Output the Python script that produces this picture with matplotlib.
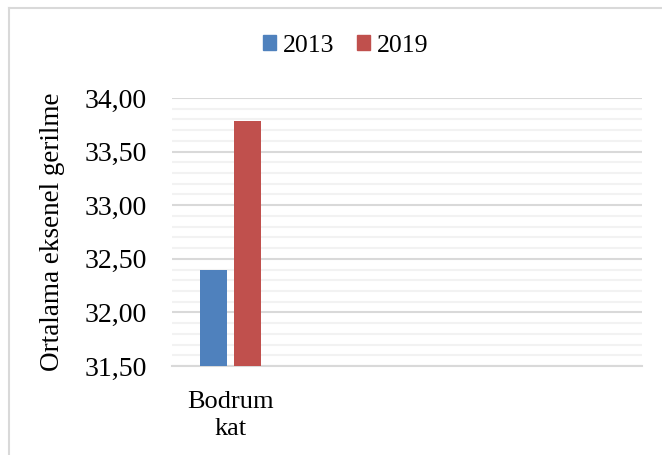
import numpy as np
import matplotlib
matplotlib.use("Agg")
import matplotlib.pyplot as plt
from matplotlib.patches import Patch
from matplotlib.lines import Line2D

plt.rcParams['font.family'] = ['Liberation Serif', 'DejaVu Serif']

# data
categories = ["Bodrum\nkat", "", "", ""]
years = ["2013", "2019"]
v2013 = [32.40, np.nan, np.nan, np.nan]
v2019 = [33.79, np.nan, np.nan, np.nan]
yticks = [31.5, 32.0, 32.5, 33.0, 33.5, 34.0]

colors = ["#4F81BD", "#C0504D"]

fig = plt.figure(figsize=(6.62, 4.55), dpi=100)
ax = fig.add_axes([0.26, 0.1956, 0.71, 0.589])

x = np.arange(len(categories))
w = 0.23
ax.bar(x - 0.145, v2013, w, color=colors[0], zorder=3)
ax.bar(x + 0.145, v2019, w, color=colors[1], zorder=3)

ax.set_xlim(-0.5, len(categories) - 0.5)
ax.set_ylim(31.5, 34.0)
ax.set_yticks(yticks)
ax.set_yticklabels([f"{t:.2f}".replace(".", ",") for t in yticks], fontsize=20)
ax.set_yticks(np.arange(31.6, 34.0, 0.1), minor=True)
ax.set_xticks(x)
ax.set_xticklabels(categories, fontsize=19, linespacing=1.3)
ax.tick_params(axis='both', which='both', length=0)
ax.tick_params(axis='y', pad=18)
ax.tick_params(axis='x', pad=18)

ax.grid(axis='y', which='major', color='#d9d9d9', linewidth=1.5, zorder=0)
ax.grid(axis='y', which='minor', color='#f2f2f2', linewidth=1.5, zorder=0)
for s in ['top', 'right', 'left']:
    ax.spines[s].set_visible(False)
ax.spines['bottom'].set_color('#d9d9d9')
ax.spines['bottom'].set_linewidth(1.5)

ax.set_ylabel("Ortalama eksenel gerilme", fontsize=19.5, labelpad=14)

handles = [Patch(color=c) for c in colors]
fig.legend(handles, years, loc='center', bbox_to_anchor=(0.522, 0.90),
           ncol=2, frameon=False, fontsize=18.5, handlelength=0.5,
           handleheight=0.5, handletextpad=0.27, columnspacing=0.9)

# outer chart frame (left and top edges visible)
fig.add_artist(Line2D([9 / 662, 9 / 662], [0, 1 - 8 / 455], transform=fig.transFigure,
                      color='#d9d9d9', linewidth=1.5))
fig.add_artist(Line2D([9 / 662, 1], [1 - 8 / 455, 1 - 8 / 455], transform=fig.transFigure,
                      color='#d9d9d9', linewidth=1.5))

fig.savefig("out.png", dpi=100)
